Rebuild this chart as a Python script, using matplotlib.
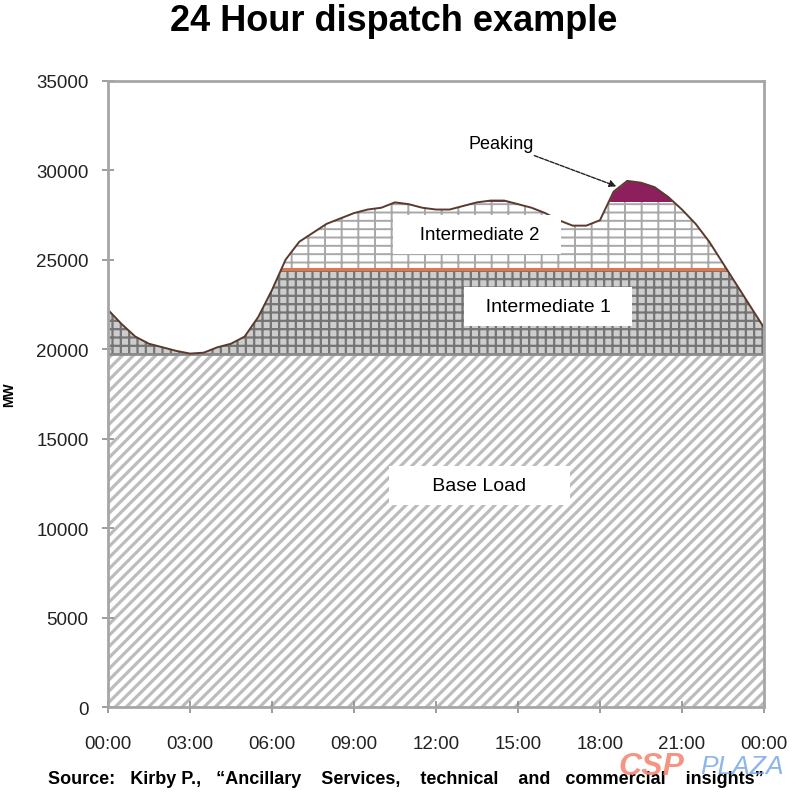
import matplotlib
matplotlib.use('Agg')
import matplotlib.pyplot as plt
from matplotlib.patches import Rectangle
import numpy as np

plt.rcParams['font.family'] = ['Liberation Sans', 'DejaVu Sans']

# hourly load profile (MW)
hours = [0, 0.5, 1, 1.5, 2, 2.5, 3, 3.5, 4, 4.5, 5, 5.5, 6, 6.5, 7, 7.5, 8, 8.5,
         9, 9.5, 10, 10.5, 11, 11.5, 12, 12.5, 13, 13.5, 14, 14.5, 15, 15.5, 16,
         16.5, 17, 17.5, 18, 18.5, 19, 19.5, 20, 20.5, 21, 21.5, 22, 22.5, 23,
         23.5, 24]
load = [22200, 21400, 20700, 20300, 20100, 19900, 19750, 19800, 20100, 20300,
        20700, 21800, 23300, 25000, 26000, 26500, 27000, 27300, 27600, 27800,
        27900, 28200, 28100, 27900, 27800, 27800, 28000, 28200, 28300, 28300,
        28100, 27900, 27600, 27200, 26900, 26900, 27200, 28800, 29400, 29300,
        29050, 28500, 27800, 27000, 26000, 24800, 23600, 22400, 21200]

# dispatch layers: (name, lower MW, upper MW)
layer_names = ['Base Load', 'Intermediate 1', 'Intermediate 2', 'Peaking']
layer_lo = [0, 19700, 24500, 28300]
layer_hi = [19700, 24500, 28300, 35000]

tick_hours = [0, 3, 6, 9, 12, 15, 18, 21, 24]
tick_labels = ['00:00', '03:00', '06:00', '09:00', '12:00', '15:00', '18:00', '21:00', '00:00']

fig = plt.figure(figsize=(7.98, 8.04), dpi=100)
ax = fig.add_axes([0.1353, 0.1194, 0.822, 0.779])

hours = np.array(hours)
load = np.array(load)

styles = [
    dict(facecolor='white', edgecolor='#bcbcbc', hatch='///', hlw=2.3),
    dict(facecolor='#cdcdcd', edgecolor='#747474', hatch='++', hlw=1.6),
    dict(facecolor='white', edgecolor='#a8a8a8', hatch='--|', hlw=1.4),
    dict(facecolor='#8e1f5e', edgecolor='#8e1f5e', hatch=None, hlw=1.0),
]

for lo, hi, st in zip(layer_lo, layer_hi, styles):
    st = dict(st)
    hlw = st.pop('hlw')
    with plt.rc_context({'hatch.linewidth': hlw}):
        poly = ax.fill_between(hours, 0, load, linewidth=0, **st)
    if hasattr(poly, 'set_hatch_linewidth'):
        poly.set_hatch_linewidth(hlw)
    clip = Rectangle((0, lo), 24, hi - lo, transform=ax.transData)
    poly.set_clip_path(clip)

# outline polygon used to clip the boundary lines
outline = ax.fill_between(hours, 0, load, facecolor='none', linewidth=0)
orange = ax.axhline(layer_lo[2], color='#e0764a', lw=2.2)
orange.set_clip_path(outline.get_paths()[0], ax.transData)
grey = ax.axhline(layer_lo[1], color='#8c8c8c', lw=2)
grey.set_clip_path(outline.get_paths()[0], ax.transData)

ax.plot(hours, load, color='#5b3a2e', lw=1.4)

# layer labels on white boxes
box = dict(facecolor='white', edgecolor='none', pad=8)
ax.text(13.5, 26400, '   Intermediate 2  ', ha='center', va='center', fontsize=13.5, bbox=box)
ax.text(16.1, 22400, '  Intermediate 1  ', ha='center', va='center', fontsize=14, bbox=box)
ax.text(13.6, 12400, '      Base Load      ', ha='center', va='center', fontsize=14, bbox=box)

ax.annotate('Peaking', xy=(18.6, 29100), xytext=(14.4, 31500),
            ha='center', va='center', fontsize=13,
            arrowprops=dict(arrowstyle='-|>', color='#222222', lw=1,
                            linestyle=(0, (3, 1)), shrinkA=2, shrinkB=0,
                            mutation_scale=10))

ax.set_xlim(0, 24)
ax.set_ylim(0, 35000)
ax.set_xticks(tick_hours)
ax.set_xticklabels(tick_labels)
ax.set_yticks(range(0, 35001, 5000))
ax.tick_params(direction='inout', length=8, width=1.2, color='#8c8c8c',
               labelsize=13.5, labelcolor='#222222')
ax.tick_params(axis='x', pad=16)
ax.tick_params(axis='y', pad=10)
for s in ax.spines.values():
    s.set_color('#a6a6a6')
    s.set_linewidth(2)
ax.set_ylabel('MW', fontsize=10, fontweight='bold', labelpad=14)

fig.text(0.493, 0.973, '24 Hour dispatch example', ha='center', va='center',
         fontsize=26, fontweight='bold')
fig.text(0.06, 0.030, 'Source:   Kirby P.,   \u201cAncillary    Services,    technical    and   commercial    insights\u201d',
         ha='left', va='center', fontsize=13, fontweight='bold')
fig.text(0.775, 0.046, 'CSP', color='#f47a66', fontsize=23, fontweight='bold',
         style='italic', ha='left', va='center', alpha=0.8)
fig.text(0.877, 0.046, 'PLAZA', color='#6fa3e6', fontsize=19,
         style='italic', ha='left', va='center', alpha=0.8)

plt.savefig('out.png', dpi=100)
plt.close()
